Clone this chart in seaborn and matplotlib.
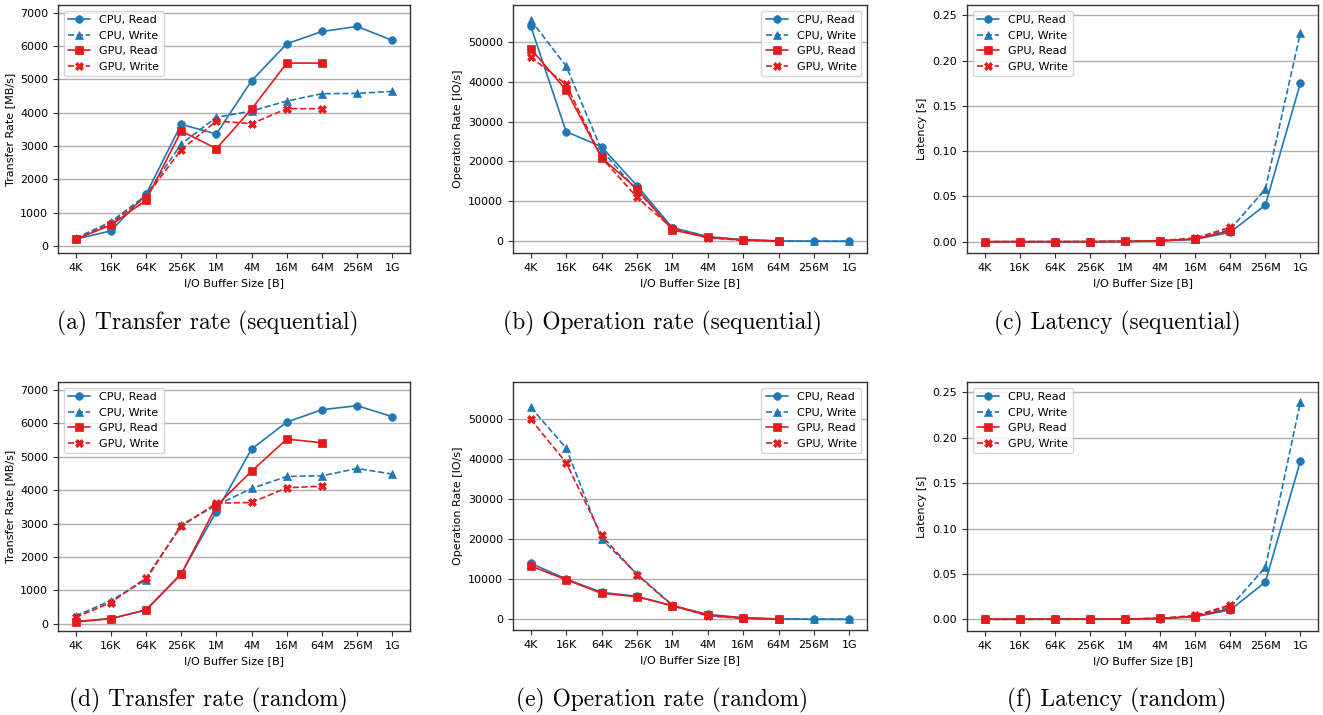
import numpy as np
import pandas as pd
import matplotlib
matplotlib.use("Agg")
import matplotlib.pyplot as plt
import seaborn as sns

sns.set_style("ticks")
plt.rcParams['font.family'] = ['DejaVu Sans']
plt.rcParams['font.size'] = 8
plt.rcParams['text.color'] = 'black'
plt.rcParams['axes.labelcolor'] = 'black'
plt.rcParams['xtick.color'] = 'black'
plt.rcParams['ytick.color'] = 'black'

sizes = ["4K", "16K", "64K", "256K", "1M", "4M", "16M", "64M", "256M", "1G"]
series_names = ["CPU, Read", "CPU, Write", "GPU, Read", "GPU, Write"]

# (a) Transfer rate sequential [MB/s]
tr_seq_cpu_read = [200, 450, 1550, 3650, 3360, 4960, 6070, 6440, 6590, 6170]
tr_seq_cpu_write = [230, 720, 1520, 3060, 3860, 4050, 4350, 4570, 4580, 4640]
tr_seq_gpu_read = [200, 620, 1370, 3450, 2920, 4110, 5490, 5490]
tr_seq_gpu_write = [200, 660, 1480, 2890, 3750, 3670, 4120, 4120]

# (b) Operation rate sequential [IO/s]
op_seq_cpu_read = [53920, 27460, 23700, 13940, 3420, 1170, 380, 100, 26, 6]
op_seq_cpu_write = [55420, 43900, 22900, 12700, 3400, 1150, 300, 70, 17, 4]
op_seq_gpu_read = [48250, 37900, 20950, 13190, 2840, 1000, 330, 85]
op_seq_gpu_write = [46160, 39300, 21000, 11020, 3250, 880, 250, 60]

# (c) Latency sequential [s]
lat_seq_cpu_read = [0.00002, 0.00004, 0.00004, 0.00007, 0.0003, 0.0008, 0.0026, 0.0103, 0.0405, 0.1754]
lat_seq_cpu_write = [0.00002, 0.00002, 0.00004, 0.00008, 0.00029, 0.0009, 0.0030, 0.0136, 0.0581, 0.2310]
lat_seq_gpu_read = [0.00002, 0.00003, 0.00005, 0.00008, 0.00035, 0.0010, 0.0029, 0.0121]
lat_seq_gpu_write = [0.00002, 0.00003, 0.00005, 0.00009, 0.00031, 0.0012, 0.0040, 0.0158]

# (d) Transfer rate random [MB/s]
tr_rnd_cpu_read = [70, 150, 410, 1500, 3360, 5230, 6040, 6410, 6530, 6200]
tr_rnd_cpu_write = [230, 690, 1310, 2960, 3550, 4050, 4410, 4430, 4650, 4480]
tr_rnd_gpu_read = [50, 150, 410, 1480, 3530, 4570, 5530, 5420]
tr_rnd_gpu_write = [190, 630, 1370, 2920, 3610, 3630, 4070, 4120]

# (e) Operation rate random [IO/s]
op_rnd_cpu_read = [14000, 10080, 6750, 5750, 3330, 1250, 360, 100, 25, 6]
op_rnd_cpu_write = [53000, 42830, 20080, 11330, 3580, 970, 270, 70, 17, 4]
op_rnd_gpu_read = [13330, 9920, 6500, 5670, 3420, 1100, 330, 85]
op_rnd_gpu_write = [50000, 39170, 21000, 11170, 3440, 870, 240, 60]

# (f) Latency random [s]
lat_rnd_cpu_read = [0.00007, 0.0001, 0.00015, 0.00017, 0.0003, 0.0008, 0.0028, 0.0103, 0.0411, 0.1744]
lat_rnd_cpu_write = [0.00002, 0.00002, 0.00005, 0.00009, 0.00028, 0.0010, 0.0037, 0.0137, 0.0573, 0.2397]
lat_rnd_gpu_read = [0.00008, 0.0001, 0.00015, 0.00018, 0.00029, 0.0009, 0.0030, 0.0118]
lat_rnd_gpu_write = [0.00002, 0.00003, 0.00005, 0.00009, 0.00029, 0.0011, 0.0042, 0.0158]

captions = ["(a) Transfer rate (sequential)", "(b) Operation rate (sequential)",
            "(c) Latency (sequential)", "(d) Transfer rate (random)",
            "(e) Operation rate (random)", "(f) Latency (random)"]
ylabels = ["Transfer Rate [MB/s]", "Operation Rate [IO/s]", "Latency [s]"]
xlabel = "I/O Buffer Size [B]"

panels = [
    (tr_seq_cpu_read, tr_seq_cpu_write, tr_seq_gpu_read, tr_seq_gpu_write),
    (op_seq_cpu_read, op_seq_cpu_write, op_seq_gpu_read, op_seq_gpu_write),
    (lat_seq_cpu_read, lat_seq_cpu_write, lat_seq_gpu_read, lat_seq_gpu_write),
    (tr_rnd_cpu_read, tr_rnd_cpu_write, tr_rnd_gpu_read, tr_rnd_gpu_write),
    (op_rnd_cpu_read, op_rnd_cpu_write, op_rnd_gpu_read, op_rnd_gpu_write),
    (lat_rnd_cpu_read, lat_rnd_cpu_write, lat_rnd_gpu_read, lat_rnd_gpu_write),
]

BLUE = "#1f77b4"
RED = "#e41a1c"
styles = [
    dict(color=BLUE, marker="o", linestyle="-"),
    dict(color=BLUE, marker="^", linestyle="--"),
    dict(color=RED, marker="s", linestyle="-"),
    dict(color=RED, marker="X", linestyle="--"),
]

W, H = 1323, 715
fig = plt.figure(figsize=(W / 100, H / 100), dpi=100)

def frac_box(l, r, t, b):
    return [l / W, 1 - b / H, (r - l) / W, (b - t) / H]

boxes = [
    frac_box(58, 410, 5, 253), frac_box(513, 867, 5, 253), frac_box(967, 1318, 5, 253),
    frac_box(58, 410, 382, 631), frac_box(513, 867, 382, 630), frac_box(967, 1318, 382, 631),
]
ylims = [(-215, 7235), (-2930, 59190), (-0.0125, 0.2615),
         (-220, 7240), (-2670, 59330), (-0.0129, 0.2614)]
legend_locs = ["upper left", "upper right", "upper left",
               "upper left", "upper right", "upper left"]
caption_pos = [(208, 323), (662, 323), (1117, 323),
               (208, 700), (662, 700), (1117, 700)]

xpos = np.arange(len(sizes))

for i, (data, box) in enumerate(zip(panels, boxes)):
    ax = fig.add_axes(box)
    for name, vals, st in zip(series_names, data, styles):
        n = len(vals)
        df = pd.DataFrame({"x": xpos[:n], "y": vals})
        sns.lineplot(data=df, x="x", y="y", ax=ax, color=st["color"], marker=st["marker"],
                     linestyle=st["linestyle"], markersize=5.5, linewidth=1.2,
                     markeredgecolor=st["color"], markeredgewidth=0.5, label=name)
    ax.set_xticks(xpos)
    ax.set_xticklabels(sizes)
    ax.set_xlim(-0.5, len(sizes) - 0.5)
    ax.set_ylim(*ylims[i])
    ax.set_xlabel(xlabel, fontsize=8)
    ax.set_ylabel(ylabels[i % 3], fontsize=8)
    ax.tick_params(labelsize=8, length=3.5, width=0.8, color="#333333")
    ax.grid(axis="y", color="#b0b0b0", linewidth=1.0)
    ax.grid(axis="x", visible=False)
    ax.set_axisbelow(True)
    for sp in ax.spines.values():
        sp.set_visible(True)
        sp.set_color("#333333")
        sp.set_linewidth(1.0)
    ax.legend(loc=legend_locs[i], fontsize=8, frameon=True)
    cx, cy = caption_pos[i]
    fig.text(cx / W, 1 - cy / H, captions[i], ha="center", va="center",
             fontsize=16.9, family="cmr10")

fig.savefig("out.png", dpi=100)
